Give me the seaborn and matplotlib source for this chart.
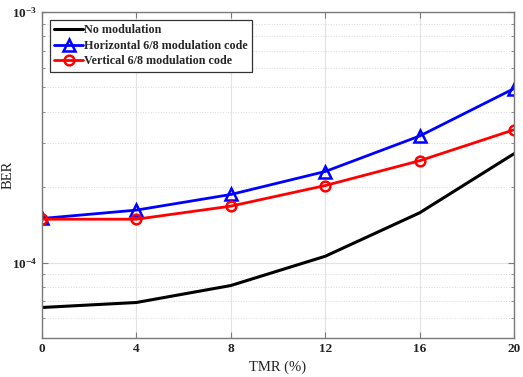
import numpy as np
import pandas as pd
import matplotlib
matplotlib.use("Agg")
import matplotlib.pyplot as plt
import matplotlib.ticker as mticker
import seaborn as sns

# ---- data ----
tmr = [0, 4, 8, 12, 16, 20]
ber_none = [6.62e-5, 6.93e-5, 8.1e-5, 1.06e-4, 1.58e-4, 2.72e-4]
ber_horiz = [1.50e-4, 1.62e-4, 1.87e-4, 2.31e-4, 3.20e-4, 4.95e-4]
ber_vert = [1.49e-4, 1.49e-4, 1.68e-4, 2.03e-4, 2.55e-4, 3.39e-4]
labels = ["No modulation", "Horizontal 6/8 modulation code", "Vertical 6/8 modulation code"]

sns.set_style("ticks")
plt.rcParams["font.family"] = ["Liberation Serif", "DejaVu Serif"]
plt.rcParams["mathtext.fontset"] = "custom"
plt.rcParams["mathtext.rm"] = "Liberation Serif:bold"
plt.rcParams["mathtext.bf"] = "Liberation Serif:bold"
plt.rcParams["mathtext.it"] = "Liberation Serif:bold:italic"
plt.rcParams["mathtext.default"] = "bf"

fig = plt.figure(figsize=(5.23, 3.77), dpi=100)
ax = fig.add_axes([0.0803, 0.1034, 0.9025, 0.8646])

sns.lineplot(x=tmr, y=ber_none, ax=ax, color="black", lw=2.2, label=labels[0])
sns.lineplot(x=tmr, y=ber_horiz, ax=ax, color="#0000ff", lw=2.0, marker="^",
             ms=8, mfc="none", mec="#0000ff", mew=1.8, label=labels[1])
sns.lineplot(x=tmr, y=ber_vert, ax=ax, color="#ff0000", lw=2.0, marker="o",
             ms=7, mfc="none", mec="#ff0000", mew=1.8, label=labels[2])

ax.set_yscale("log")
ax.set_xlim(0, 20)
ax.set_ylim(5e-5, 1e-3)
ax.set_xticks(tmr)
ax.yaxis.set_major_locator(mticker.LogLocator(base=10))
ax.yaxis.set_minor_locator(mticker.LogLocator(base=10, subs=np.arange(2, 10)))
ax.yaxis.set_minor_formatter(mticker.NullFormatter())
ax.yaxis.set_major_formatter(mticker.FuncFormatter(
    lambda v, p: r"$10^{%d}$" % int(round(np.log10(v)))))

ax.grid(True, which="major", color="#e3e3e3", lw=0.8, ls="-")
ax.grid(True, which="minor", axis="y", color="#dcdcdc", lw=0.7, ls=":")
ax.set_axisbelow(True)

for s in ax.spines.values():
    s.set_color("#7a7a7a")
    s.set_linewidth(1.0)
ax.tick_params(which="both", direction="in", top=True, right=True, colors="#7a7a7a",
               labelcolor="#222222", labelsize=9.5)
ax.tick_params(which="major", length=4)
ax.tick_params(which="minor", length=2.5)
for lab in ax.get_xticklabels():
    lab.set_fontweight("bold")

ax.set_xlabel("TMR (%)", fontsize=10.5, color="#222222", labelpad=4)
ax.set_ylabel("BER", fontsize=10.5, color="#222222")
ax.yaxis.set_label_coords(-0.058, 0.5)

leg = ax.legend(loc="upper left", bbox_to_anchor=(0.017, 0.976),
                prop={"weight": "bold", "size": 8.7}, frameon=True, fancybox=False,
                edgecolor="#333333", framealpha=1, handlelength=2.4,
                handletextpad=0.1, borderpad=0.35, labelspacing=0.3, borderaxespad=0)
leg.get_frame().set_linewidth(0.9)

fig.savefig("out.png", dpi=100)
